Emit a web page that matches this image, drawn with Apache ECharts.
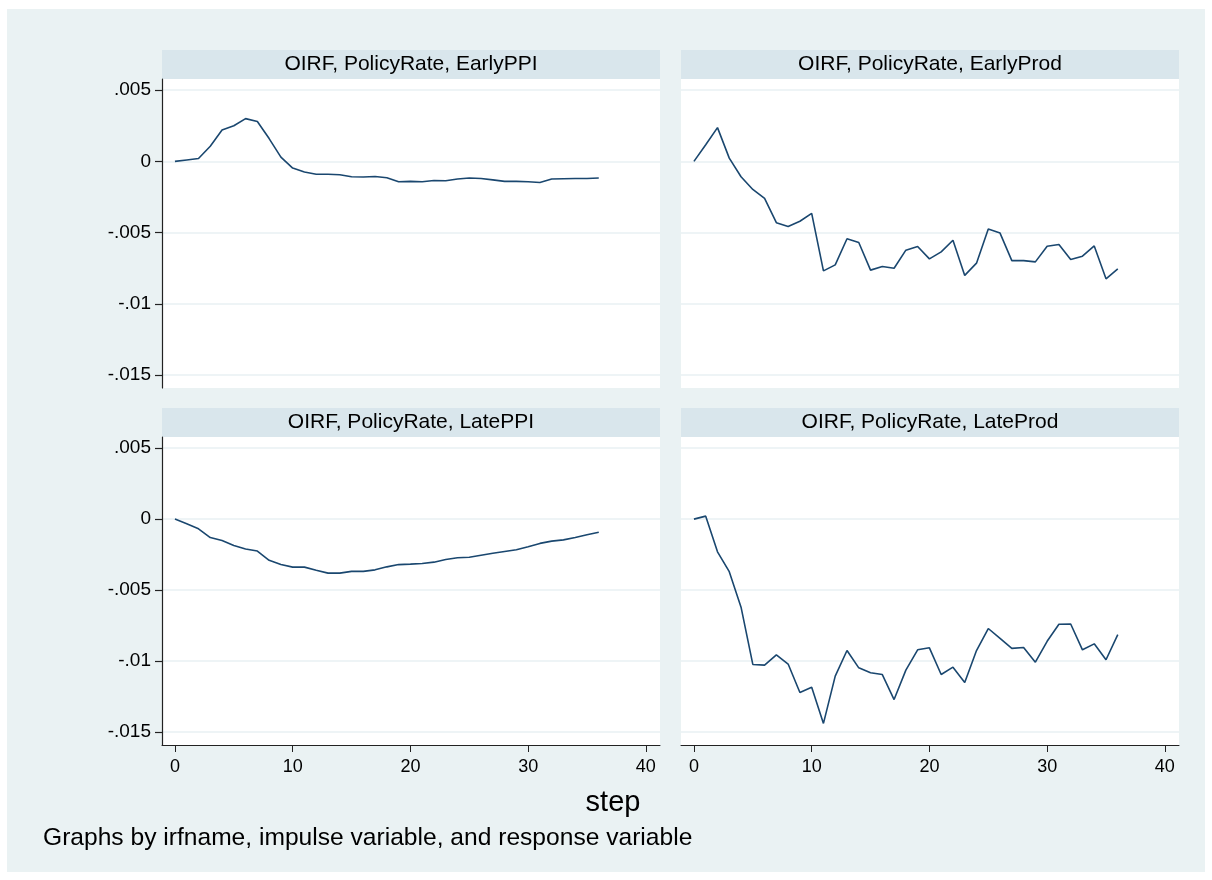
<!DOCTYPE html>
<html>
<head>
<meta charset="utf-8">
<script src="https://cdn.jsdelivr.net/npm/echarts@6/dist/echarts.min.js"></script>
<style>
html,body{margin:0;padding:0;background:#fff;}
#chart{width:1212px;height:880px;}
</style>
</head>
<body>
<div id="chart"></div>
<script>
// ---- data ----
const steps = [0,1,2,3,4,5,6,7,8,9,10,11,12,13,14,15,16,17,18,19,20,21,22,23,24,25,26,27,28,29,30,31,32,33,34,35,36];
const panelTitles = ["OIRF, PolicyRate, EarlyPPI","OIRF, PolicyRate, EarlyProd","OIRF, PolicyRate, LatePPI","OIRF, PolicyRate, LateProd"];
const earlyPPI = [0,0.0001,0.0002,0.00106,0.0022,0.0025,0.003,0.0028,0.0016,0.0003,-0.00047,-0.00075,-0.0009,-0.0009,-0.00094,-0.00108,-0.0011,-0.00106,-0.00115,-0.00143,-0.0014,-0.00143,-0.00134,-0.00136,-0.00124,-0.00117,-0.0012,-0.0013,-0.0014,-0.0014,-0.00143,-0.00148,-0.00124,-0.00122,-0.0012,-0.0012,-0.00117];
const earlyProd = [0,0.00117,0.00237,0.00023,-0.00108,-0.00197,-0.0026,-0.0043,-0.00457,-0.0042,-0.00365,-0.00768,-0.00726,-0.00543,-0.00569,-0.00763,-0.00738,-0.0075,-0.00623,-0.00597,-0.00684,-0.00635,-0.00553,-0.008,-0.00714,-0.00475,-0.00503,-0.00696,-0.00696,-0.00705,-0.00595,-0.00583,-0.00689,-0.00665,-0.00593,-0.00824,-0.00754];
const latePPI = [0,-0.00033,-0.00068,-0.0013,-0.0015,-0.00185,-0.0021,-0.00225,-0.0029,-0.0032,-0.00338,-0.00338,-0.0036,-0.0038,-0.0038,-0.00368,-0.00368,-0.00357,-0.00336,-0.0032,-0.00317,-0.00312,-0.00303,-0.00284,-0.00272,-0.00268,-0.00254,-0.0024,-0.00228,-0.00216,-0.00195,-0.00171,-0.00155,-0.00146,-0.0013,-0.0011,-0.00092];
const lateProd = [0,0.00021,-0.0023,-0.0037,-0.0062,-0.01023,-0.01028,-0.00955,-0.0102,-0.0122,-0.01183,-0.01438,-0.01105,-0.00925,-0.01047,-0.01082,-0.01094,-0.0127,-0.01063,-0.0092,-0.00906,-0.01094,-0.01042,-0.0115,-0.00925,-0.0077,-0.0084,-0.0091,-0.00904,-0.01007,-0.0086,-0.0074,-0.00738,-0.0092,-0.00878,-0.0099,-0.00813];
const yTicks = [-0.015,-0.01,-0.005,0,0.005];
const yTickLabels = {"-0.015":"-.015","-0.01":"-.01","-0.005":"-.005","0":"0","0.005":".005"};
const xTicks = [0,10,20,30,40];
const xTitle = "step";
const note = "Graphs by irfname, impulse variable, and response variable";

// ---- layout ----
const FONT = "'Liberation Sans', Arial, sans-serif";
const grids = [
  {left:162, top:79, width:498, height:309},
  {left:681, top:79, width:498, height:309},
  {left:162, top:437, width:498, height:308},
  {left:681, top:437, width:498, height:308}
];
const seriesData = [earlyPPI, earlyProd, latePPI, lateProd];
const lineColor = '#1a476f';
const gridColor = '#e9f1f3';

const xAxes = [], yAxes = [], series = [], graphics = [];
graphics.push({type:'rect', shape:{x:7,y:9,width:1198,height:863}, style:{fill:'#eaf2f3'}, z:-10});

grids.forEach((g,i)=>{
  const bottomRow = i >= 2;
  const leftCol = i % 2 === 0;
  xAxes.push({
    type:'value', gridIndex:i, min:-1.1, max:41.2,
    axisLine:{show:bottomRow, onZero:false, lineStyle:{color:'#222', width:1}},
    axisTick:{show:bottomRow, inside:false, length:7, lineStyle:{color:'#222', width:1}, customValues:xTicks},
    axisLabel:{show:bottomRow, customValues:xTicks, color:'#000', fontSize:18, fontFamily:FONT, margin:13},
    splitLine:{show:false}
  });
  yAxes.push({
    type:'value', gridIndex:i, min:-0.0159, max:0.00578,
    axisLine:{show:leftCol, onZero:false, lineStyle:{color:'#222', width:1.2}},
    axisTick:{show:leftCol, inside:false, length:7, lineStyle:{color:'#222', width:1.2}, customValues:yTicks},
    axisLabel:{show:leftCol, customValues:yTicks, color:'#000', fontSize:19, fontFamily:FONT, margin:11,
      formatter:(v)=>{ const k = String(Math.round(v*1000)/1000); return yTickLabels[k] !== undefined ? yTickLabels[k] : k; }},
    splitLine:{show:true, lineStyle:{color:gridColor, width:1.5}}
  });
  series.push({
    type:'line', xAxisIndex:i, yAxisIndex:i,
    data: steps.map((s,j)=>[s, seriesData[i][j]]),
    showSymbol:false, symbol:'none',
    lineStyle:{color:lineColor, width:1.6},
    animation:false
  });
  graphics.push({type:'rect', shape:{x:g.left, y:g.top-29, width:g.width, height:29}, style:{fill:'#d9e6ec'}});
  graphics.push({type:'text', x:g.left+g.width/2, y:g.top-14.5,
    style:{text:panelTitles[i], fill:'#000', font:'21px '+FONT, textAlign:'center', textVerticalAlign:'middle'}});
});
graphics.push({type:'text', x:613, y:803, style:{text:xTitle, fill:'#000', font:'29px '+FONT, textAlign:'center', textVerticalAlign:'middle'}});
graphics.push({type:'text', x:43, y:838, style:{text:note, fill:'#000', font:'24.6px '+FONT, textAlign:'left', textVerticalAlign:'middle'}});

const chart = echarts.init(document.getElementById('chart'), null, {renderer:'canvas'});
chart.setOption({
  backgroundColor:'#ffffff',
  animation:false,
  grid: grids.map(g=>Object.assign({show:true, backgroundColor:'#ffffff', borderWidth:0, containLabel:false}, g)),
  xAxis:xAxes, yAxis:yAxes, series:series,
  graphic:graphics
});
</script>
</body>
</html>
